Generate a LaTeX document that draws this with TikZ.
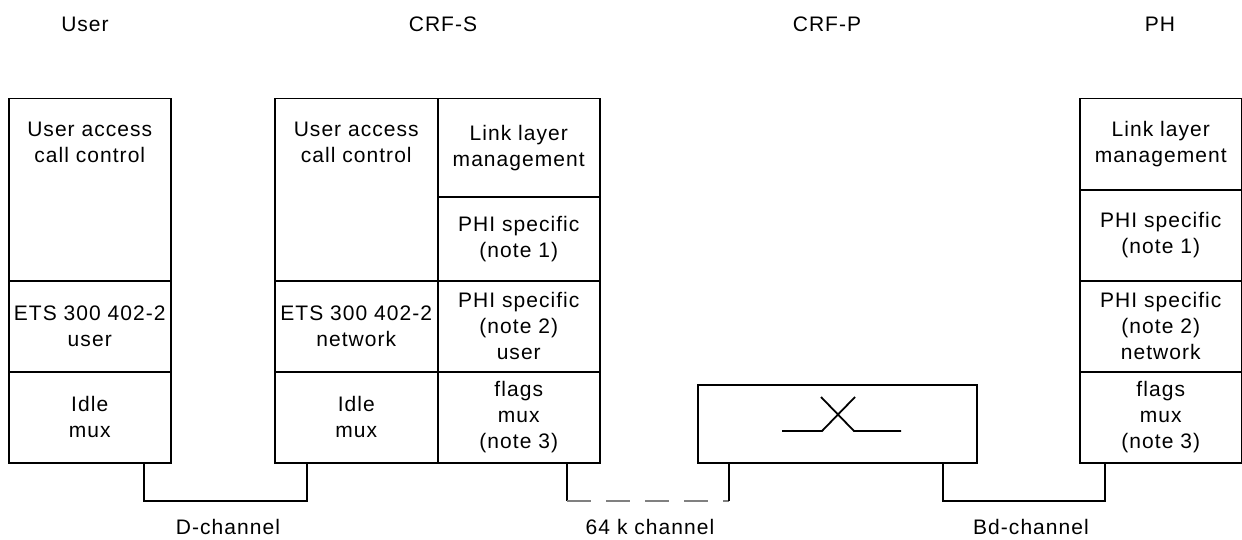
\documentclass[tikz,border=0pt]{standalone}
\usepackage{fontspec}
\newfontfamily\labfont[LetterSpace=5]{Liberation Sans}
\newcommand{\labtext}{\labfont\fontsize{10.5}{13}\selectfont}
\usetikzlibrary{calc}
\tikzset{
	layer/.style={draw, line width=0.75pt, anchor=north west, inner sep=0pt, minimum width=81pt, align=center, font=\labtext},
	lab/.style={inner sep=0pt, align=center, font=\labtext},
	wire/.style={line width=0.9pt},
	chan/.style={line width=0.9pt, gray, dash pattern=on 12pt off 7.5pt},
}

\begin{document}
\begin{tikzpicture}[x=0.5pt, y=-0.5pt]
		\useasboundingbox (0,0) rectangle (1242,540);

		\node[lab] (tuser) at (85,24) {User};
		\node[lab] (tcrfs) at (443,24) {CRF-S};
		\node[lab] (tcrfp) at (827,24) {CRF-P};
		\node[lab] (tph) at (1160,24) {PH};

		\node[layer, minimum height=91pt] (u1) at (8,98) {};
		\node[lab, anchor=north] (u1t) at ($(u1.north)+(0,24)$) {User access\\call control};
		\node[layer, minimum height=45.5pt] (u2) at (8,280) {ETS 300 402-2\\user};
		\node[layer, minimum height=45.5pt] (u3) at (8,371) {Idle\\mux};

		\node[layer, minimum width=81.5pt, minimum height=91pt] (s1) at (274,98) {};
		\node[lab, anchor=north] (s1t) at ($(s1.north)+(0,24)$) {User access\\call control};
		\node[layer, minimum width=81.5pt, minimum height=45.5pt] (s2) at (274,280) {ETS 300 402-2\\network};
		\node[layer, minimum width=81.5pt, minimum height=45.5pt] (s3) at (274,371) {Idle\\mux};

		\node[layer, minimum height=49pt] (r1) at (437,98) {Link layer\\management};
		\node[layer, minimum height=42pt] (r2) at (437,196) {PHI specific\\(note 1)};
		\node[layer, minimum height=45.5pt] (r3) at (437,280) {PHI specific\\(note 2)\\user};
		\node[layer, minimum height=45.5pt] (r4) at (437,371) {flags\\mux\\(note 3)};

		\node[layer, minimum width=139.5pt, minimum height=39pt] (sw) at (697,384) {};
		\draw[wire] (782,431) -- (822,431) -- (855,397);
		\draw[wire] (821,397) -- (854,431) -- (901,431);

		\node[layer, minimum height=45.5pt] (p1) at (1079,98) {Link layer\\management};
		\node[layer, minimum height=45.5pt] (p2) at (1079,189) {PHI specific\\(note 1)};
		\node[layer, minimum height=45.5pt] (p3) at (1079,280) {PHI specific\\(note 2)\\network};
		\node[layer, minimum height=45.5pt] (p4) at (1079,371) {flags\\mux\\(note 3)};

		\coordinate (d1) at (144,501);
		\coordinate (d2) at (307,501);
		\coordinate (k1) at (567,501);
		\coordinate (k2) at (729,501);
		\coordinate (b1) at (943,501);
		\coordinate (b2) at (1105,501);

		\draw[wire] (d1 |- u3.south) -- (d1) -- (d2) -- (d2 |- s3.south);
		\draw[wire] (k1 |- r4.south) -- (k1);
		\draw[chan] (k1) -- (k2);
		\draw[wire] (k2) -- (k2 |- sw.south);
		\draw[wire] (b1 |- sw.south) -- (b1) -- (b2) -- (b2 |- p4.south);

		\node[lab] (ld) at (228,527) {D-channel};
		\node[lab] (lk) at (650,527) {64 k channel};
		\node[lab] (lb) at (1031,527) {Bd-channel};
	\end{tikzpicture}
\end{document}
